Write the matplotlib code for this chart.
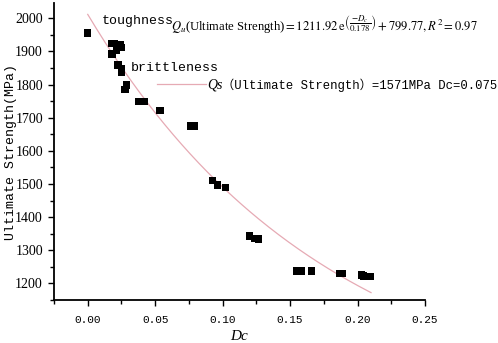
import numpy as np
import matplotlib
matplotlib.use("Agg")
import matplotlib.pyplot as plt
from matplotlib.ticker import MultipleLocator

# measured points (Dc, ultimate strength in MPa)
dc = [0.000, 0.018, 0.020, 0.0245, 0.025, 0.0215, 0.018, 0.0225, 0.025, 0.025,
      0.0285, 0.0275, 0.038, 0.042, 0.0535, 0.0765, 0.079, 0.0925, 0.096, 0.102,
      0.120, 0.124, 0.1265, 0.155, 0.158, 0.166, 0.187, 0.189, 0.203, 0.2045, 0.2095]
uts = [1956, 1924, 1924, 1921, 1911, 1904, 1892, 1859, 1849, 1836,
       1799, 1786, 1748, 1748, 1721, 1675, 1675, 1510, 1497, 1490,
       1343, 1336, 1334, 1238, 1238, 1237, 1230, 1230, 1225, 1222, 1220]

# fitted curve parameters
fit_a, fit_t, fit_c = 1211.92, 0.178, 799.77
fit_range = (0.0, 0.21)

xticks = [0.00, 0.05, 0.10, 0.15, 0.20, 0.25]
yticks = [1200, 1300, 1400, 1500, 1600, 1700, 1800, 1900, 2000]

pink = "#e6aab4"
plt.rcParams["mathtext.fontset"] = "stix"

fig = plt.figure(figsize=(4.98, 3.43), dpi=100)
ax = fig.add_axes([54/498, 1 - 300/343, (425-54)/498, 297/343])

xx = np.linspace(fit_range[0], fit_range[1], 200)
ax.plot(xx, fit_a*np.exp(-xx/fit_t) + fit_c, color=pink, lw=0.9, zorder=1)
ax.scatter(dc, uts, marker="s", s=28, color="black", edgecolors="none", zorder=3)

ax.set_xlim(-0.025, 0.25)
ax.set_ylim(1150, 2046)
ax.set_xticks(xticks)
ax.set_yticks(yticks)
ax.set_xticklabels([f"{v:.2f}" for v in xticks], family="Liberation Mono", fontsize=8)
ax.set_yticklabels([str(v) for v in yticks], family="Liberation Serif", fontsize=10)
ax.xaxis.set_minor_locator(MultipleLocator(0.025))
ax.yaxis.set_minor_locator(MultipleLocator(50))
ax.tick_params(which="major", direction="out", length=4.5, width=1, colors="black")
ax.tick_params(which="minor", direction="out", length=3, width=1)
ax.tick_params(axis="x", pad=6)

for s in ["top", "right"]:
    ax.spines[s].set_visible(False)
for s in ["left", "bottom"]:
    ax.spines[s].set_linewidth(1.3)

ax.set_xlabel("Dc", family="Liberation Serif", style="italic", fontsize=11, labelpad=4)
ax.set_ylabel("Ultimate Strength(MPa)", family="Liberation Mono", fontsize=9.5)
ax.yaxis.set_label_coords(-(54 - 17)/371, 0.5)

# annotations
fig.text(102/498, 1 - 21/343, "toughness", family="Liberation Mono", fontsize=9.5, va="center")
fig.text(171/498, 1 - 31/343,
         r"$Q_u$(Ultimate Strength)$=1211.92\,\mathrm{e}^{\left(\dfrac{-D_c}{0.178}\right)}+799.77, R^2=0.97$",
         family="Liberation Serif", fontsize=9.1, va="baseline")
fig.text(131/498, 1 - 68/343, "brittleness", family="Liberation Mono", fontsize=9.5, va="center")

fig.add_artist(plt.Line2D([157/498, 206/498], [1 - 84/343, 1 - 84/343],
                          color=pink, lw=0.9))
fig.text(207/498, 1 - 85/343, "Qs", family="Liberation Serif", style="italic",
         fontsize=10, va="center")
fig.text(222/498, 1 - 85/343, "（Ultimate Strength）=1571MPa Dc=0.075",
         family=["Liberation Mono", "Noto Sans CJK SC"], fontsize=8.8, va="center")

fig.savefig("out.png", dpi=100)
